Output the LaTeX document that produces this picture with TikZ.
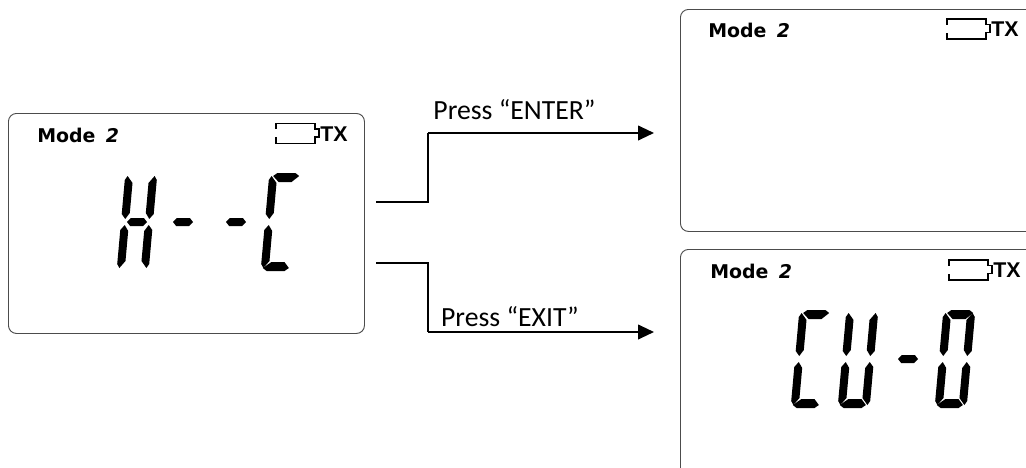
\documentclass[tikz,border=0pt]{standalone}
\usepackage{fontspec}
\usetikzlibrary{arrows.meta}
\newfontfamily\lcdfont{DejaVu Sans}
\newfontfamily\txfont{Liberation Sans}
\newfontfamily\pressfont{Carlito}

% seven segments of one LCD digit, drawn around the digit's centre
\newcommand{\sega}{\fill (-8,-49) -- (10,-49) -- (14,-46) -- (7,-40) -- (-6,-40) -- (-12,-46) -- cycle;}
\newcommand{\segb}{\fill (16,-42) -- (13.5,-46) -- (8,-39) -- (8,-9) -- (12,-3) -- (16,-8) -- cycle;}
\newcommand{\segc}{\fill (16,8) -- (12,3) -- (8,9) -- (8,39) -- (13.5,46) -- (16,42) -- cycle;}
\newcommand{\segd}{\fill (-6,40) -- (7,40) -- (12,46) -- (8,49) -- (-10,49) -- (-14,46) -- cycle;}
\newcommand{\sege}{\fill (-16,8) -- (-12,3) -- (-8,9) -- (-8,39) -- (-13.5,46) -- (-16,42) -- cycle;}
\newcommand{\segf}{\fill (-16,-42) -- (-13.5,-46) -- (-8,-39) -- (-8,-9) -- (-12,-3) -- (-16,-8) -- cycle;}
\newcommand{\segg}{\fill (-6.5,-4) -- (6.5,-4) -- (10,0) -- (6.5,4) -- (-6.5,4) -- (-10,0) -- cycle;}
\newcommand{\lcddigit}[3]{\begin{scope}[shift={(#1,#2)},xslant=0.09]#3\end{scope}}

% mode text and battery icon at the top of a panel
\newcommand{\panelhead}[3]{
  \node[modelabel] (mode#1) at (37+#2,135+#3) {Mode\hspace{0.55em}{\itshape 2}};
  \draw[battery] (276+#2,129+#3) -- (276+#2,123.5+#3) -- (315+#2,123.5+#3) -- (315+#2,129+#3) -- (319+#2,129+#3)
    -- (319+#2,137+#3) -- (315+#2,137+#3) -- (315+#2,143.5+#3) -- (276+#2,143.5+#3) -- (276+#2,137+#3);
  \node[txlabel] (tx#1) at (320+#2,134+#3) {TX};
}

\begin{document}
\begin{tikzpicture}[
  x=0.75pt, y=-0.75pt,
  >={Triangle[length=12pt,width=11pt]},
  panel/.style={rectangle, draw=black!70, line width=0.7pt, rounded corners=6pt, inner sep=0pt, anchor=north west},
  modelabel/.style={anchor=west, inner sep=0pt, font=\lcdfont\bfseries\fontsize{14.2pt}{17pt}\selectfont},
  txlabel/.style={anchor=west, inner sep=0pt, font=\txfont\bfseries\fontsize{16pt}{18pt}\selectfont},
  battery/.style={line width=1.2pt},
  presslabel/.style={inner sep=0pt, font=\pressfont\fontsize{20.8pt}{24pt}\selectfont},
  link/.style={line width=1.5pt}
]
\clip (0,0) rectangle (1026,468);

% Panels
\node[panel, minimum width=267pt, minimum height=165pt] (hcpanel) at (8,113) {};
\node[panel, minimum width=272pt, minimum height=166.5pt] (blankpanel) at (680,9) {};
\node[panel, minimum width=272pt, minimum height=180pt] (cupanel) at (680,249) {};

% Panel headers
\panelhead{hc}{0}{0}
\panelhead{blank}{671}{-104.5}
\panelhead{cu}{673}{136.5}

% Left display
\lcddigit{137}{222}{\segb\segc\sege\segf\segg}
\lcddigit{183}{222}{\segg}
\lcddigit{236}{222}{\segg}
\lcddigit{281}{222}{\sega\sege\segf\segd}

% Lower right display
\lcddigit{811}{359}{\sega\sege\segf\segd}
\lcddigit{858}{359}{\segb\segc\segd\sege\segf}
\lcddigit{908}{359}{\segg}
\lcddigit{955}{359}{\sega\segb\segc\segd\sege\segf}

% Connectors
\coordinate (enterout) at (376,202);
\coordinate (enterbend) at (428,133);
\coordinate (enterin) at (654,133);
\coordinate (exitout) at (376,263);
\coordinate (exitbend) at (428,332);
\coordinate (exitin) at (654,332);
\draw[link] (enterout) -| (enterbend);
\draw[link,->] (enterbend) -- (enterin);
\draw[link] (exitout) -| (exitbend);
\draw[link,->] (exitbend) -- (exitin);

% Labels
\node[presslabel] (enterlabel) at (514.5,110) {Press “ENTER”};
\node[presslabel] (exitlabel) at (510,316.5) {Press “EXIT”};

\end{tikzpicture}
\end{document}
